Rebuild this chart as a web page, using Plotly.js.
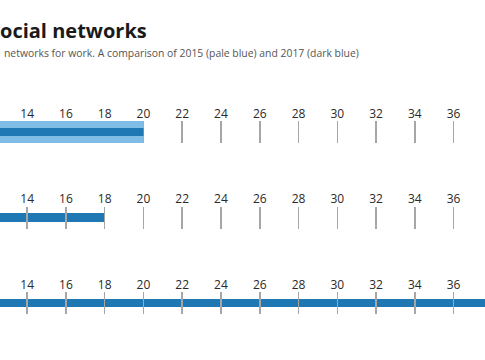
<!DOCTYPE html>
<html>
<head>
<meta charset="utf-8">
<script src="https://cdn.plot.ly/plotly-3.0.1.min.js"></script>
<style>html,body{margin:0;padding:0;background:#fff;}#chart{width:485px;height:360px;}</style>
</head>
<body>
<div id="chart"></div>
<script>
// Data
const categories = ['Row 1', 'Row 2', 'Row 3'];
const values2015 = [20, null, null];   // pale blue
const values2017 = [20, 18, 40];       // dark blue
const tickValues = [14, 16, 18, 20, 22, 24, 26, 28, 30, 32, 34, 36];
const tickLabels = ['14', '16', '18', '20', '22', '24', '26', '28', '30', '32', '34', '36'];

const PALE = '#80bde6';
const DARK = '#1f77b4';
const FONT = 'Open Sans, DejaVu Sans, sans-serif';

// Pixel rows (top, bottom) of each band in a 360 px tall page
const bands = [[121, 143], [206.5, 228.5], [292, 314]];
const H = 360;
const darkWidths = [0.37, 0.41, 0.37];

const traces = [];
const layout = {
  width: 485, height: 360,
  margin: {l: 0, r: 0, t: 0, b: 0},
  paper_bgcolor: '#ffffff', plot_bgcolor: 'rgba(0,0,0,0)',
  showlegend: false,
  barmode: 'overlay',
  font: {family: FONT},
  annotations: [
    {xref: 'paper', yref: 'paper', x: -0.027, y: 1 - 30 / H, xanchor: 'left', yanchor: 'middle',
     text: '<b>Social networks</b>', showarrow: false,
     font: {family: FONT, size: 20, color: '#1a1a1a'}},
    {xref: 'paper', yref: 'paper', x: 0.004, y: 1 - 53 / H, xanchor: 'left', yanchor: 'middle',
     text: 'networks for work. A comparison of 2015 (pale blue) and 2017 (dark blue)', showarrow: false,
     font: {family: FONT, size: 10.4, color: '#555555'}}
  ]
};

categories.forEach((cat, i) => {
  const n = i === 0 ? '' : String(i + 1);
  const xa = 'x' + n, ya = 'y' + n;
  const top = bands[i][0], bot = bands[i][1];
  layout['xaxis' + n] = {
    domain: [0, 1], anchor: ya, side: 'top',
    range: [12.6, 37.62],
    tickmode: 'array', tickvals: tickValues, ticktext: tickLabels,
    ticks: 'inside', ticklen: bot - top, tickwidth: 1.5, tickcolor: '#a6a6a6',
    tickfont: {family: FONT, size: 12, color: '#2a2a2a'},
    showgrid: false, zeroline: false, showline: false,
    layer: i === 0 ? 'below traces' : 'above traces',
    fixedrange: true
  };
  layout['yaxis' + n] = {
    domain: [1 - bot / H, 1 - top / H], anchor: xa,
    range: [-0.5, 0.5], visible: false, fixedrange: true
  };
  if (values2015[i] !== null) {
    traces.push({type: 'bar', orientation: 'h', name: '2015 ' + cat,
      x: [values2015[i]], y: [0], base: 0, width: 1,
      marker: {color: PALE, line: {width: 0}}, xaxis: xa, yaxis: ya, hoverinfo: 'x'});
  }
  if (values2017[i] !== null) {
    traces.push({type: 'bar', orientation: 'h', name: '2017 ' + cat,
      x: [values2017[i]], y: [0], base: 0, width: darkWidths[i],
      marker: {color: DARK, line: {width: 0}}, xaxis: xa, yaxis: ya, hoverinfo: 'x'});
  }
});

Plotly.newPlot('chart', traces, layout, {displayModeBar: false, staticPlot: true});
</script>
</body>
</html>
